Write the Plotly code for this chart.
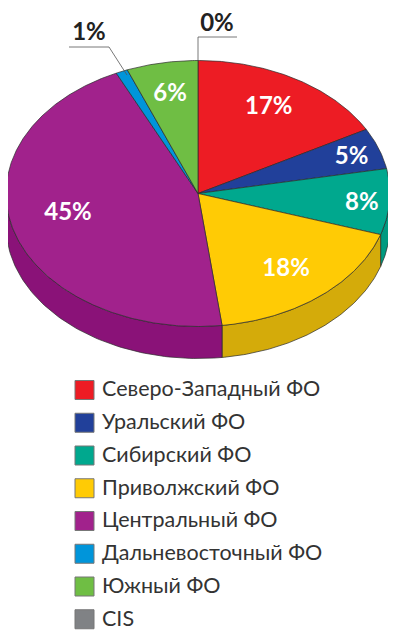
import numpy as np
import plotly.graph_objects as go

categories = ["Северо-Западный ФО", "Уральский ФО", "Сибирский ФО", "Приволжский ФО",
              "Центральный ФО", "Дальневосточный ФО", "Южный ФО", "CIS"]
values = [17, 5, 8, 18, 45, 1, 6, 0]
colors = ["#ED1C24", "#21409A", "#00A88E", "#FFCB05", "#A1228C", "#0095DA", "#6FBE44", "#808285"]
side_colors = ["#C4141B", "#182F75", "#009A80", "#D4AB0A", "#8A1278", "#0078B0", "#5A9C36", "#666666"]
label_radius = [0.76, 0.85, 0.855, 0.72, 0.69, None, 0.775, None]
label_angle_nudge = [-1.6, 0, 0, 0, 5, 0, 0, 0]

CX, CY, RX, RY, DEPTH = 198.0, 193.5, 192.0, 133.0, 32.0
EDGE = "#2b2b2b"
PAGE_INSET = 8  # the page body margin
TEXT_DY = 3


def pt(deg, dy=0.0, r=1.0):
    a = np.radians(deg)
    return CX + RX * r * np.sin(a), CY - RY * r * np.cos(a) + dy


fig = go.Figure()
total = sum(values)
starts = np.cumsum([0] + values[:-1]) / total * 360
ends = np.cumsum(values) / total * 360

# side walls (only the front half of the cylinder is visible)
for s, e, col in zip(starts, ends, side_colors):
    lo, hi = max(s, 90), min(e, 270)
    if hi <= lo:
        continue
    arc = np.linspace(lo, hi, 80)
    xt, yt = pt(arc)
    xb, yb = pt(arc[::-1], DEPTH)
    fig.add_trace(go.Scatter(x=np.r_[xt, xb, xt[0]], y=np.r_[yt, yb, yt[0]], mode="lines",
                             fill="toself", fillcolor=col, line=dict(color=EDGE, width=0.7),
                             hoverinfo="skip", showlegend=False))

# top wedges
for s, e, col, name, v in zip(starts, ends, colors, categories, values):
    if v == 0:
        continue
    arc = np.linspace(s, e, max(int(e - s) * 2, 8))
    xa, ya = pt(arc)
    fig.add_trace(go.Scatter(x=np.r_[CX, xa, CX], y=np.r_[CY, ya, CY], mode="lines",
                             fill="toself", fillcolor=col, line=dict(color=EDGE, width=0.7),
                             name=name, text=f"{name}: {v}%", hoverinfo="text", showlegend=False))

# leader lines for the two small slices
x0, y0 = pt(starts[7])
fig.add_trace(go.Scatter(x=[x0, x0, x0 + 39], y=[y0, 37, 37], mode="lines",
                         line=dict(color="#555555", width=0.8), hoverinfo="skip", showlegend=False))
x1, y1 = pt((starts[5] + ends[5]) / 2, r=0.97)
fig.add_trace(go.Scatter(x=[x1 + 3, 109, 69], y=[y1, 47, 47], mode="lines",
                         line=dict(color="#555555", width=0.8), hoverinfo="skip", showlegend=False))

# percentage labels
lx, ly, lt = [], [], []
for s, e, v, r, n in zip(starts, ends, values, label_radius, label_angle_nudge):
    if r is None:
        continue
    px, py = pt((s + e) / 2 + n, r=r)
    lx.append(px); ly.append(py + TEXT_DY); lt.append(f"{v}%")
fig.add_trace(go.Scatter(x=lx, y=ly, text=lt, mode="text", hoverinfo="skip", showlegend=False, cliponaxis=False,
                         textfont=dict(family="Lato", size=24, color="white", weight=700)))
fig.add_trace(go.Scatter(x=[89, 217], y=[34, 25], text=[f"{values[5]}%", f"{values[7]}%"], mode="text",
                         hoverinfo="skip", showlegend=False, cliponaxis=False,
                         textfont=dict(family="Lato", size=24, color="#222222", weight=700)))

# key
for i, (name, col) in enumerate(zip(categories, colors)):
    y = 390 + i * 32.75
    fig.add_trace(go.Scatter(x=[84.5], y=[y], mode="markers", showlegend=False, hoverinfo="skip", cliponaxis=False,
                             marker=dict(symbol="square", size=19, color=col,
                                         line=dict(color="#777777", width=1))))
    fig.add_trace(go.Scatter(x=[102], y=[y + 1], mode="text", text=[name], textposition="middle right",
                             showlegend=False, hoverinfo="skip", cliponaxis=False,
                             textfont=dict(family="Lato", size=21.5, color="#333333")))

fig.update_layout(width=396 - PAGE_INSET, height=640 - PAGE_INSET, margin=dict(l=0, r=0, t=0, b=0),
                  paper_bgcolor="white", plot_bgcolor="white", showlegend=False,
                  xaxis=dict(range=[PAGE_INSET, 396], visible=False, fixedrange=True),
                  yaxis=dict(range=[640, PAGE_INSET], visible=False, fixedrange=True))
fig.write_html("out.html", config={"displayModeBar": False})
